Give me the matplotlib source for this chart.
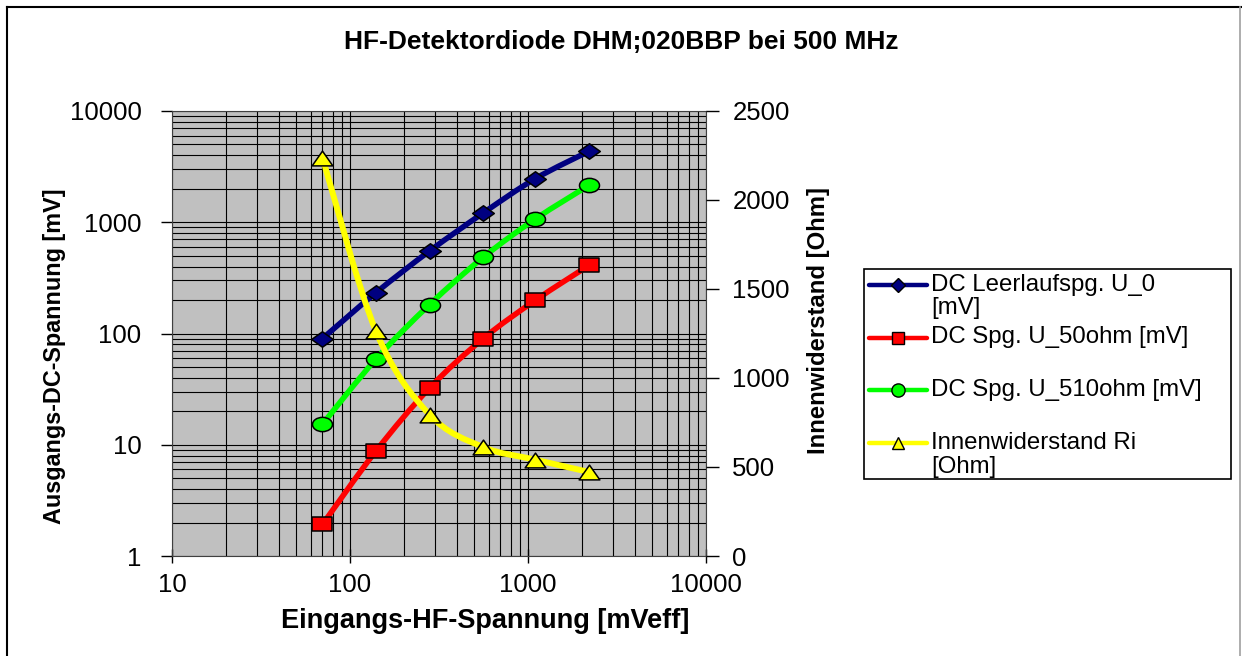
import numpy as np
import matplotlib
matplotlib.use("Agg")
import matplotlib.pyplot as plt
from matplotlib.path import Path
from matplotlib.patches import PathPatch, Rectangle
from matplotlib.lines import Line2D

plt.rcParams['font.family'] = ['Liberation Sans', 'DejaVu Sans']

# Messwerte
u_in = [70, 140, 280, 560, 1100, 2200]             # Eingangs-HF-Spannung [mVeff]
u0 = [90, 233, 552, 1211, 2467, 4344]              # DC Leerlaufspannung [mV]
u50 = [1.92, 8.8, 32.4, 90, 199, 410]              # DC Spg. an 50 Ohm [mV]
u510 = [15.3, 59, 182, 484, 1070, 2148]            # DC Spg. an 510 Ohm [mV]
ri = [2238, 1262, 794, 612, 541, 472]              # Innenwiderstand [Ohm]

labels = ["DC Leerlaufspg. U_0\n[mV]", "DC Spg. U_50ohm [mV]",
          "DC Spg. U_510ohm [mV]", "Innenwiderstand Ri\n[Ohm]"]


# geglaettete Linie wie in Excel (Bezier durch die Messpunkte)
def smooth_path(xs, ys, logy=True):
    X = np.log10(xs)
    Y = np.log10(ys) if logy else np.asarray(ys, dtype=float)
    P = np.column_stack([X, Y])
    Pe = np.vstack([P[0], P, P[-1]])
    verts = [P[0]]
    codes = [Path.MOVETO]
    for i in range(len(P) - 1):
        p0, p1, p2, p3 = Pe[i], Pe[i + 1], Pe[i + 2], Pe[i + 3]
        verts += [p1 + (p2 - p0) / 6, p2 - (p3 - p1) / 6, p2]
        codes += [Path.CURVE4] * 3
    verts = np.array(verts)
    verts[:, 0] = 10 ** verts[:, 0]
    if logy:
        verts[:, 1] = 10 ** verts[:, 1]
    return Path(verts, codes)


# breite Marker (Bild ist horizontal gestreckt)
k = 1.4
circ = Path.unit_circle()
m_ellipse = Path(circ.vertices * [k, 1], circ.codes)
m_rect = Path([[-k, -1], [k, -1], [k, 1], [-k, 1], [-k, -1]], closed=True)
m_diamond = Path([[-k, 0], [0, 1], [k, 0], [0, -1], [-k, 0]], closed=True)
m_tri = Path([[-k, -1], [k, -1], [0, 1], [-k, -1]], closed=True)

W, H = 1242, 656
fig = plt.figure(figsize=(W / 100, H / 100), dpi=100)
ax = fig.add_axes([172 / W, 1 - 556 / H, 534 / W, 445 / H])
ax.set_facecolor('#c0c0c0')
ax.set_xscale('log')
ax.set_yscale('log')
ax.set_xlim(10, 10000)
ax.set_ylim(1, 10000)
ax.set_axisbelow(True)
ax.grid(True, which='both', color='black', lw=0.8)
for s in ax.spines.values():
    s.set_color('#404040')
    s.set_linewidth(0.8)

series = [(u0, '#000080', m_diamond, 15.6, 'D', 7),
          (u50, '#ff0000', m_rect, 14.4, 's', 9),
          (u510, '#00ff00', m_ellipse, 14.4, 'o', 9.5)]
handles = []
for ys, col, mk, ms, lmk, lms in series:
    ax.add_patch(PathPatch(smooth_path(u_in, ys), facecolor='none', edgecolor=col, lw=4, capstyle='round'))
    ax.plot(u_in, ys, ls='none', marker=mk, ms=ms, mfc=col, mec='black', mew=1.1)
    handles.append((col, lmk, lms))

ax2 = ax.twinx()
ax2.set_ylim(0, 2500)
ax2.set_yticks([0, 500, 1000, 1500, 2000, 2500])
ax2.add_patch(PathPatch(smooth_path(u_in, ri, logy=False), facecolor='none', edgecolor='#ffff00', lw=4.3))
ax2.plot(u_in, ri, ls='none', marker=m_tri, ms=14.9, mfc='#ffff00', mec='black', mew=1.1)
handles.append(('#ffff00', '^', 9))
for s in ax2.spines.values():
    s.set_visible(False)

ax.set_xticks([10, 100, 1000, 10000])
ax.set_xticklabels(['10', '100', '1000', '10000'])
ax.set_yticks([1, 10, 100, 1000, 10000])
ax.set_yticklabels(['1', '10', '100', '1000', '10000'])
ax.tick_params(axis='x', which='major', direction='inout', length=10, width=1, pad=7, labelsize=18.5)
ax.tick_params(axis='y', which='major', direction='out', length=8, width=1, pad=14, labelsize=18.5)
ax.tick_params(which='minor', length=0)
ax2.tick_params(axis='y', direction='out', length=9, width=1, pad=10, labelsize=18.5)
ax2.tick_params(which='minor', length=0)

fig.text(0.5, 1 - 42 / H, "HF-Detektordiode DHM;020BBP bei 500 MHz", ha='center', va='center',
         fontsize=19, fontweight='bold')
fig.text(485 / W, 1 - 621 / H, "Eingangs-HF-Spannung [mVeff]", ha='center', va='center',
         fontsize=19.5, fontweight='bold')
fig.text(55 / W, 1 - 356 / H, "Ausgangs-DC-Spannung [mV]", ha='center', va='center',
         rotation=90, fontsize=16.8, fontweight='bold')
fig.text(819 / W, 1 - 321 / H, "Innenwiderstand [Ohm]", ha='center', va='center',
         rotation=90, fontsize=17.2, fontweight='bold')

# Legende (Linie auf Hoehe der ersten Textzeile, wie in Excel)
fig.add_artist(Rectangle((864 / W, 1 - 479 / H), 367 / W, 210 / H, transform=fig.transFigure,
                         facecolor='white', edgecolor='black', lw=1.2))
row_y = [285, 337.5, 390, 443]
for (col, lmk, lms), lab, yy in zip(handles, labels, row_y):
    fy = 1 - yy / H
    fig.add_artist(Line2D([869 / W, 927 / W], [fy, fy], color=col, lw=3.2,
                          solid_capstyle='round', transform=fig.transFigure))
    fig.add_artist(Line2D([898 / W], [fy], ls='none', marker=lmk, ms=lms, mfc=col, mec='black',
                          mew=1.0, transform=fig.transFigure))
    for j, line in enumerate(lab.split('\n')):
        fig.text(931 / W, 1 - (yy + 23.5 * j) / H, line, ha='left', va='center', fontsize=17.3)

# Rahmen um das Diagramm
fig.add_artist(Line2D([7 / W, 7 / W], [0, 1 - 7 / H], color='black', lw=1.5))
fig.add_artist(Line2D([7 / W, 1241 / W], [1 - 7 / H, 1 - 7 / H], color='black', lw=1.5))
fig.add_artist(Line2D([1240 / W, 1240 / W], [0, 1 - 7 / H], color='#a0a0a0', lw=1.2))

fig.savefig('out.png', dpi=100)
